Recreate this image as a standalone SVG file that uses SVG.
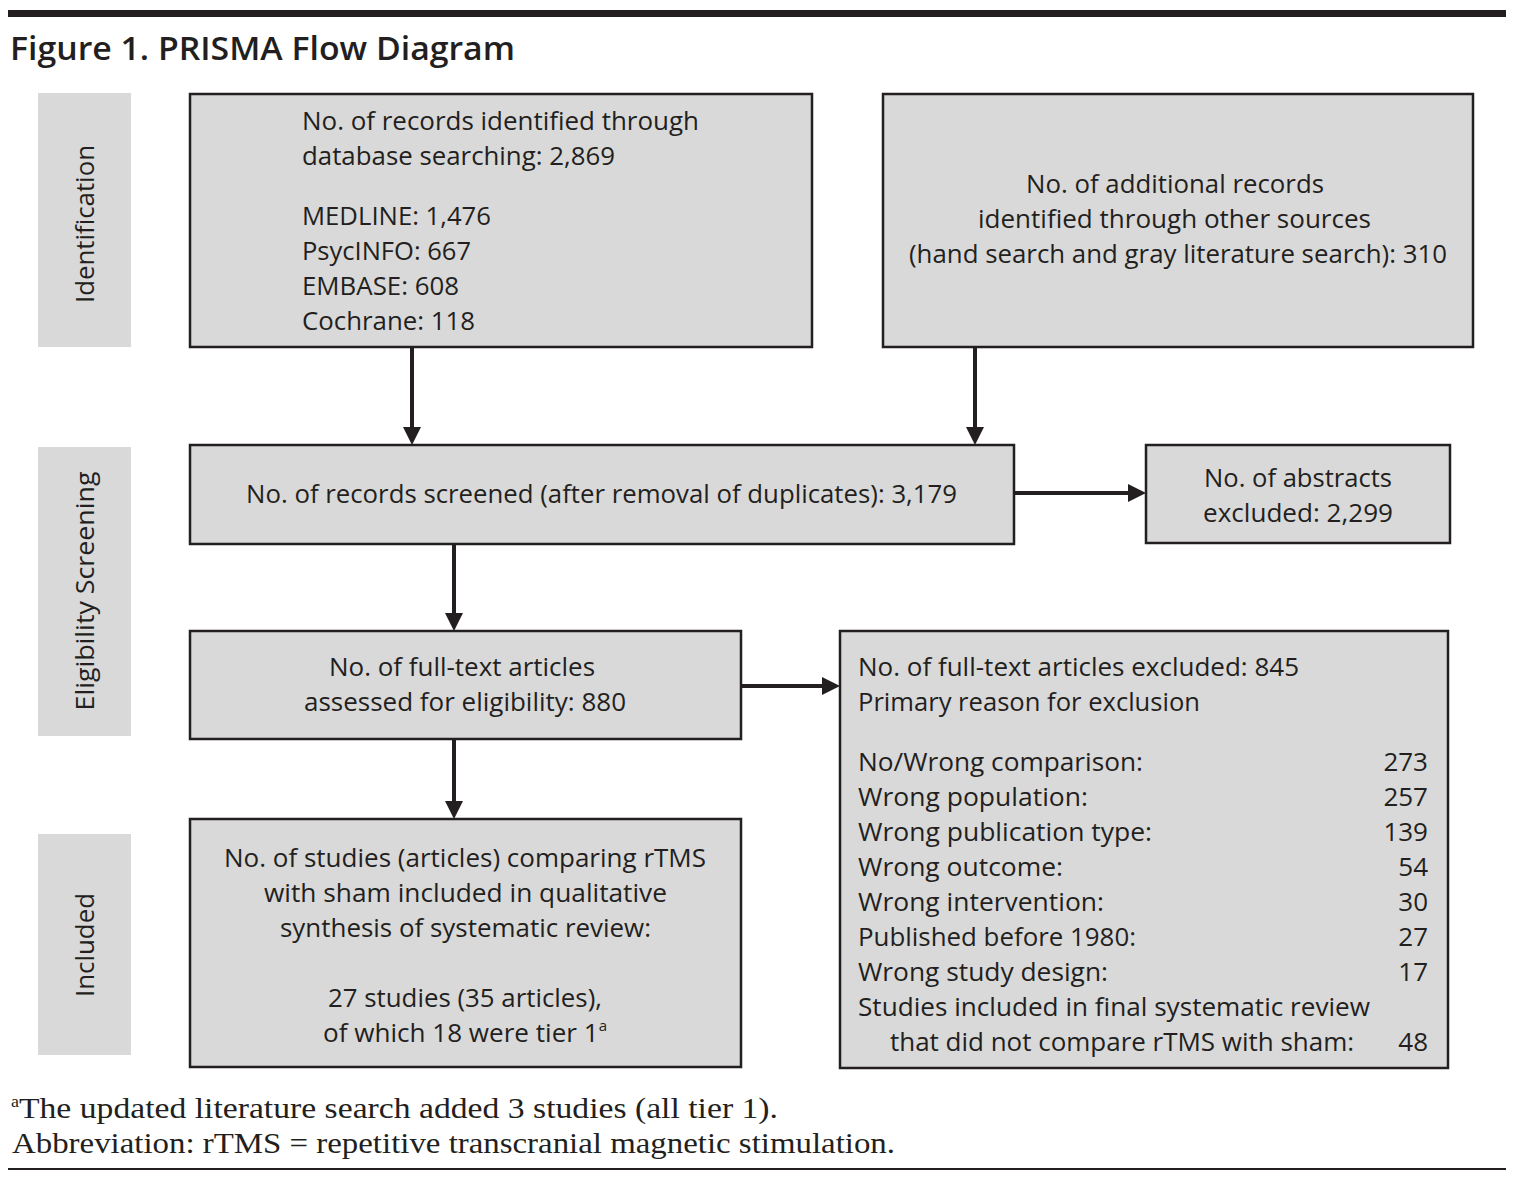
<svg xmlns="http://www.w3.org/2000/svg" width="1516" height="1183" viewBox="0 0 1516 1183">
<style>
.box{fill:#d9d9d9;stroke:#231f20;stroke-width:2.5}
.side{fill:#d9d9d9;stroke:none}
.t{font-family:"Open Sans","Noto Sans","Liberation Sans",sans-serif;font-size:26px;fill:#231f20}
.fn{font-family:"Liberation Serif","DejaVu Serif",serif;font-size:30px;fill:#231f20}
.conn{stroke:#231f20;stroke-width:4;fill:none;marker-end:url(#ah)}
</style>
<defs>
<marker id="ah" viewBox="0 0 18 18" refX="2" refY="9" markerWidth="18" markerHeight="18" markerUnits="userSpaceOnUse" orient="auto">
<path d="M0,0 L18,9 L0,18 z" fill="#231f20"/>
</marker>
</defs>
<rect x="0" y="0" width="1516" height="1183" fill="#fff"/>
<rect x="8" y="10" width="1498" height="7" fill="#231f20"/>
<text x="10" y="60" font-family="'Open Sans','Noto Sans',sans-serif" font-weight="600" font-size="32" fill="#231f20" textLength="505" lengthAdjust="spacingAndGlyphs">Figure 1. PRISMA Flow Diagram</text>

<g id="stage-identification">
<rect class="side" x="38" y="93" width="93" height="254"/>
<text class="t" transform="translate(94,224) rotate(-90)" text-anchor="middle" textLength="158" lengthAdjust="spacingAndGlyphs">Identification</text>
</g>
<g id="stage-eligibility">
<rect class="side" x="38" y="447" width="93" height="289"/>
<text class="t" transform="translate(94,591) rotate(-90)" text-anchor="middle" textLength="239" lengthAdjust="spacingAndGlyphs">Eligibility Screening</text>
</g>
<g id="stage-included">
<rect class="side" x="38" y="834" width="93" height="221"/>
<text class="t" transform="translate(94,945) rotate(-90)" text-anchor="middle" textLength="104" lengthAdjust="spacingAndGlyphs">Included</text>
</g>

<g id="connectors">
<path class="conn" d="M412,347 V429"/>
<path class="conn" d="M975,347 V429"/>
<path class="conn" d="M1014,493 H1130"/>
<path class="conn" d="M454,544 V615"/>
<path class="conn" d="M741,686 H824"/>
<path class="conn" d="M454,739 V803"/>
</g>

<g id="db-search">
<rect class="box" x="190" y="94" width="622" height="253"/>
<text class="t" x="302" y="130" textLength="397" lengthAdjust="spacingAndGlyphs">No. of records identified through</text>
<text class="t" x="302" y="165" textLength="313" lengthAdjust="spacingAndGlyphs">database searching: 2,869</text>
<text class="t" x="302" y="225" textLength="189" lengthAdjust="spacingAndGlyphs">MEDLINE: 1,476</text>
<text class="t" x="302" y="260" textLength="169" lengthAdjust="spacingAndGlyphs">PsycINFO: 667</text>
<text class="t" x="302" y="295" textLength="157" lengthAdjust="spacingAndGlyphs">EMBASE: 608</text>
<text class="t" x="302" y="330" textLength="173" lengthAdjust="spacingAndGlyphs">Cochrane: 118</text>
</g>

<g id="other-sources">
<rect class="box" x="883" y="94" width="590" height="253"/>
<text class="t" x="1026" y="193" textLength="298" lengthAdjust="spacingAndGlyphs">No. of additional records</text>
<text class="t" x="978" y="228" textLength="393" lengthAdjust="spacingAndGlyphs">identified through other sources</text>
<text class="t" x="909" y="263" textLength="538" lengthAdjust="spacingAndGlyphs">(hand search and gray literature search): 310</text>
</g>

<g id="screened">
<rect class="box" x="190" y="445" width="824" height="99"/>
<text class="t" x="246" y="503" textLength="711" lengthAdjust="spacingAndGlyphs">No. of records screened (after removal of duplicates): 3,179</text>
</g>

<g id="abstracts-excluded">
<rect class="box" x="1146" y="445" width="304" height="98"/>
<text class="t" x="1204" y="487" textLength="188" lengthAdjust="spacingAndGlyphs">No. of abstracts</text>
<text class="t" x="1203" y="522" textLength="190" lengthAdjust="spacingAndGlyphs">excluded: 2,299</text>
</g>

<g id="fulltext">
<rect class="box" x="190" y="631" width="551" height="108"/>
<text class="t" x="329" y="676" textLength="266" lengthAdjust="spacingAndGlyphs">No. of full-text articles</text>
<text class="t" x="304" y="711" textLength="322" lengthAdjust="spacingAndGlyphs">assessed for eligibility: 880</text>
</g>

<g id="fulltext-excluded">
<rect class="box" x="840" y="631" width="608" height="437"/>
<text class="t" x="858" y="676" textLength="441" lengthAdjust="spacingAndGlyphs">No. of full-text articles excluded: 845</text>
<text class="t" x="858" y="711" textLength="342" lengthAdjust="spacingAndGlyphs">Primary reason for exclusion</text>
<text class="t" x="858" y="771" textLength="285" lengthAdjust="spacingAndGlyphs">No/Wrong comparison:</text>
<text class="t" x="858" y="806" textLength="230" lengthAdjust="spacingAndGlyphs">Wrong population:</text>
<text class="t" x="858" y="841" textLength="294" lengthAdjust="spacingAndGlyphs">Wrong publication type:</text>
<text class="t" x="858" y="876" textLength="205" lengthAdjust="spacingAndGlyphs">Wrong outcome:</text>
<text class="t" x="858" y="911" textLength="246" lengthAdjust="spacingAndGlyphs">Wrong intervention:</text>
<text class="t" x="858" y="946" textLength="278" lengthAdjust="spacingAndGlyphs">Published before 1980:</text>
<text class="t" x="858" y="981" textLength="250" lengthAdjust="spacingAndGlyphs">Wrong study design:</text>
<text class="t" x="858" y="1016" textLength="512" lengthAdjust="spacingAndGlyphs">Studies included in final systematic review</text>
<text class="t" x="890" y="1051" textLength="464" lengthAdjust="spacingAndGlyphs">that did not compare rTMS with sham:</text>
<text class="t" x="1428" y="771" text-anchor="end">273</text>
<text class="t" x="1428" y="806" text-anchor="end">257</text>
<text class="t" x="1428" y="841" text-anchor="end">139</text>
<text class="t" x="1428" y="876" text-anchor="end">54</text>
<text class="t" x="1428" y="911" text-anchor="end">30</text>
<text class="t" x="1428" y="946" text-anchor="end">27</text>
<text class="t" x="1428" y="981" text-anchor="end">17</text>
<text class="t" x="1428" y="1051" text-anchor="end">48</text>
</g>

<g id="included">
<rect class="box" x="190" y="819" width="551" height="248"/>
<text class="t" x="224" y="867" textLength="482" lengthAdjust="spacingAndGlyphs">No. of studies (articles) comparing rTMS</text>
<text class="t" x="264" y="902" textLength="403" lengthAdjust="spacingAndGlyphs">with sham included in qualitative</text>
<text class="t" x="280" y="937" textLength="371" lengthAdjust="spacingAndGlyphs">synthesis of systematic review:</text>
<text class="t" x="328" y="1007" textLength="274" lengthAdjust="spacingAndGlyphs">27 studies (35 articles),</text>
<text class="t" x="323" y="1042" textLength="284" lengthAdjust="spacingAndGlyphs">of which 18 were tier 1<tspan dy="-11" font-size="15">a</tspan></text>
</g>

<text class="fn" x="11" y="1118" textLength="767" lengthAdjust="spacingAndGlyphs"><tspan dy="-11" font-size="16">a</tspan><tspan dy="11">The updated literature search added 3 studies  (all tier 1).</tspan></text>
<text class="fn" x="12" y="1153" textLength="883" lengthAdjust="spacingAndGlyphs">Abbreviation: rTMS = repetitive transcranial magnetic stimulation.</text>
<rect x="8" y="1168" width="1498" height="2" fill="#231f20"/>
</svg>
